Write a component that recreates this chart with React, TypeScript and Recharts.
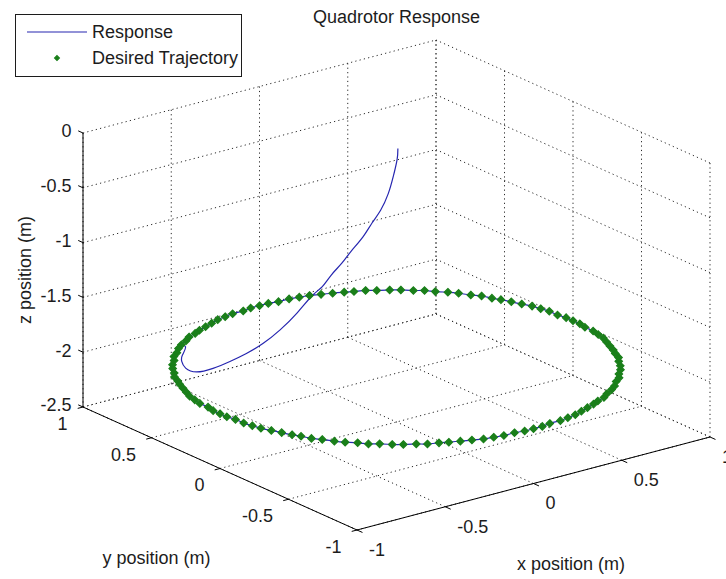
import {
  ComposedChart,
  XAxis,
  YAxis,
  Line,
  Scatter,
  ReferenceLine,
  Legend,
  Customized,
} from 'recharts';

const WIDTH = 726;
const HEIGHT = 579;
const FONT = "'Liberation Sans', Arial, Helvetica, sans-serif";
const TEXT = '#1c1c1c';
const BLUE = '#2626b0';
const GREEN = '#1a7f1a';
const GRID = '#2a2a2a';

// axes limits and ticks (m)
const X_LIM = [-1, 1];
const Y_LIM = [-1, 1];
const Z_LIM = [-2.5, 0];
const X_TICKS = [-1, -0.5, 0, 0.5, 1];
const Y_TICKS = [-1, -0.5, 0, 0.5, 1];
const Z_TICKS = [0, -0.5, -1, -1.5, -2, -2.5];

// desired trajectory: 1 m circle held at z = -2 m, one sample every 3 deg
const DESIRED_Z = -2;
const DESIRED_X = [
  1.00, 1.00, 0.99, 0.99, 0.98, 0.97, 0.95, 0.93, 0.91, 0.89,
  0.87, 0.84, 0.81, 0.78, 0.74, 0.71, 0.67, 0.63, 0.59, 0.54,
  0.50, 0.45, 0.41, 0.36, 0.31, 0.26, 0.21, 0.16, 0.10, 0.05,
  0.00, -0.05, -0.10, -0.16, -0.21, -0.26, -0.31, -0.36, -0.41, -0.45,
  -0.50, -0.54, -0.59, -0.63, -0.67, -0.71, -0.74, -0.78, -0.81, -0.84,
  -0.87, -0.89, -0.91, -0.93, -0.95, -0.97, -0.98, -0.99, -0.99, -1.00,
  -1.00, -1.00, -0.99, -0.99, -0.98, -0.97, -0.95, -0.93, -0.91, -0.89,
  -0.87, -0.84, -0.81, -0.78, -0.74, -0.71, -0.67, -0.63, -0.59, -0.54,
  -0.50, -0.45, -0.41, -0.36, -0.31, -0.26, -0.21, -0.16, -0.10, -0.05,
  0.00, 0.05, 0.10, 0.16, 0.21, 0.26, 0.31, 0.36, 0.41, 0.45,
  0.50, 0.54, 0.59, 0.63, 0.67, 0.71, 0.74, 0.78, 0.81, 0.84,
  0.87, 0.89, 0.91, 0.93, 0.95, 0.97, 0.98, 0.99, 0.99, 1.00,
];
const DESIRED_Y = [
  0.00, 0.05, 0.10, 0.16, 0.21, 0.26, 0.31, 0.36, 0.41, 0.45,
  0.50, 0.54, 0.59, 0.63, 0.67, 0.71, 0.74, 0.78, 0.81, 0.84,
  0.87, 0.89, 0.91, 0.93, 0.95, 0.97, 0.98, 0.99, 0.99, 1.00,
  1.00, 1.00, 0.99, 0.99, 0.98, 0.97, 0.95, 0.93, 0.91, 0.89,
  0.87, 0.84, 0.81, 0.78, 0.74, 0.71, 0.67, 0.63, 0.59, 0.54,
  0.50, 0.45, 0.41, 0.36, 0.31, 0.26, 0.21, 0.16, 0.10, 0.05,
  0.00, -0.05, -0.10, -0.16, -0.21, -0.26, -0.31, -0.36, -0.41, -0.45,
  -0.50, -0.54, -0.59, -0.63, -0.67, -0.71, -0.74, -0.78, -0.81, -0.84,
  -0.87, -0.89, -0.91, -0.93, -0.95, -0.97, -0.98, -0.99, -0.99, -1.00,
  -1.00, -1.00, -0.99, -0.99, -0.98, -0.97, -0.95, -0.93, -0.91, -0.89,
  -0.87, -0.84, -0.81, -0.78, -0.74, -0.71, -0.67, -0.63, -0.59, -0.54,
  -0.50, -0.45, -0.41, -0.36, -0.31, -0.26, -0.21, -0.16, -0.10, -0.05,
];

// response: take-off at the origin, descent and swing onto the circle
const DESCENT_X = [0, -0.02, -0.05, -0.07, -0.09, -0.10, -0.12, -0.15, -0.17, -0.20, -0.22, -0.23,
  -0.30, -0.38, -0.46, -0.54, -0.61, -0.69, -0.76, -0.76, -0.72, -0.67, -0.59];
const DESCENT_Y = [-0.01, -0.03, -0.04, -0.03, 0.00, 0.05, 0.09, 0.14, 0.18, 0.22, 0.26, 0.32,
  0.34, 0.36, 0.38, 0.40, 0.43, 0.45, 0.48, 0.56, 0.64, 0.70, 0.78];
const DESCENT_Z = [0, -0.08, -0.22, -0.37, -0.53, -0.67, -0.81, -0.96, -1.08, -1.2, -1.32, -1.43,
  -1.57, -1.7, -1.8, -1.87, -1.93, -1.97, -1.99, -2, -2, -2, -2];
// circle sample where the vehicle locks on; from there it flies one lap clockwise
const CAPTURE_INDEX = 42;

// default 3-D view (az -37.5, el 30) fitted to the axes box, in px per metre
const VIEW = { ox: 396.5, oy: 422, xx: 176.5, xy: -46.5, yx: -137, yy: -61.5, zy: -109.6 };

type P3 = [number, number, number];

function project(x: number, y: number, z: number) {
  return {
    sx: VIEW.ox + VIEW.xx * x + VIEW.yx * y,
    sy: VIEW.oy + VIEW.xy * x + VIEW.yy * y + VIEW.zy * (z - Z_LIM[0]),
  };
}

const desiredPts = DESIRED_X.map((x, i) => project(x, DESIRED_Y[i], DESIRED_Z));
const nCircle = DESIRED_X.length;
const lap = Array.from({ length: nCircle + 1 }, (_, k) => (CAPTURE_INDEX - k + nCircle) % nCircle);
const responsePts = [
  ...DESCENT_X.map((x, i) => project(x, DESCENT_Y[i], DESCENT_Z[i])),
  ...lap.map(i => project(DESIRED_X[i], DESIRED_Y[i], DESIRED_Z)),
];

const [x0, x1] = X_LIM;
const [y0, y1] = Y_LIM;
const [z0, z1] = Z_LIM;

// dotted grid on the two back walls and the floor
const gridSegs: [P3, P3][] = [
  ...X_TICKS.map((x): [P3, P3] => [[x, y1, z0], [x, y1, z1]]),
  ...Z_TICKS.map((z): [P3, P3] => [[x0, y1, z], [x1, y1, z]]),
  ...Y_TICKS.map((y): [P3, P3] => [[x1, y, z0], [x1, y, z1]]),
  ...Z_TICKS.map((z): [P3, P3] => [[x1, y0, z], [x1, y1, z]]),
  ...X_TICKS.map((x): [P3, P3] => [[x, y0, z0], [x, y1, z0]]),
  ...Y_TICKS.map((y): [P3, P3] => [[x0, y, z0], [x1, y, z0]]),
];

// solid axis lines plus their tick marks
const axisSegs: [P3, P3][] = [
  [[x0, y1, z0], [x0, y1, z1]],
  [[x0, y0, z0], [x0, y1, z0]],
  [[x0, y0, z0], [x1, y0, z0]],
  ...Z_TICKS.map((z): [P3, P3] => [[x0, y1, z], [x0, y1 + 0.035, z]]),
  ...Y_TICKS.map((y): [P3, P3] => [[x0, y, z0], [x0 - 0.03, y, z0]]),
  ...X_TICKS.map((x): [P3, P3] => [[x, y0, z0], [x, y0 - 0.04, z0]]),
];

const zTickLabels = Z_TICKS.map(z => ({ ...project(x0, y1, z), label: String(z) }));
const yTickLabels = Y_TICKS.map(y => ({ ...project(x0, y, z0), label: String(y) }));
const xTickLabels = X_TICKS.map(x => ({ ...project(x, y0, z0), label: String(x) }));
const xAxisTitle = [{ ...project(0, y0, z0), label: 'x position (m)' }];
const yAxisTitle = [{ ...project(x0, 0, z0), label: 'y position (m)' }];
const zAxisTitle = [{ ...project(x0, y1, (z0 + z1) / 2), label: 'z position (m)' }];

function textShape(dx: number, dy: number, anchor: 'start' | 'middle' | 'end', rotate = 0) {
  return (p: any) => {
    const x = p.cx + dx;
    const y = p.cy + dy;
    return (
      <text
        x={x}
        y={y}
        dy="0.35em"
        textAnchor={anchor}
        transform={rotate ? `rotate(${rotate} ${x} ${y})` : undefined}
        fontFamily={FONT}
        fontSize={18}
        fill={TEXT}
      >
        {p.payload.label}
      </text>
    );
  };
}

const markerShape = (r: number) => (p: any) => (
  <polygon
    points={`${p.cx},${p.cy - r} ${p.cx + r},${p.cy} ${p.cx},${p.cy + r} ${p.cx - r},${p.cy}`}
    fill={GREEN}
    stroke={GREEN}
    strokeWidth={1.2}
  />
);
const Diamond = markerShape(3.7);
const LegendDiamond = markerShape(2.4);

function TrajectoryLegend() {
  return (
    <div style={{ width: 225, height: 61, border: `1px solid ${TEXT}`, background: '#fff' }}>
      <svg width={225} height={61} style={{ display: 'block' }}>
        <line x1={11} x2={71} y1={17} y2={17} stroke={BLUE} strokeWidth={1.2} />
        <LegendDiamond cx={41} cy={43} />
        <text x={76} y={17} dy="0.35em" fontFamily={FONT} fontSize={18} fill={TEXT}>Response</text>
        <text x={76} y={43} dy="0.35em" fontFamily={FONT} fontSize={18} fill={TEXT}>Desired Trajectory</text>
      </svg>
    </div>
  );
}

const seg = ([a, b]: [P3, P3]) => {
  const p = project(...a);
  const q = project(...b);
  return [{ x: p.sx, y: p.sy }, { x: q.sx, y: q.sy }];
};

export default function App() {
  return (
    <div style={{ position: 'absolute', left: 0, top: 0, width: WIDTH, height: HEIGHT, background: '#fff' }}>
      <ComposedChart width={WIDTH} height={HEIGHT} margin={{ top: 0, right: 0, bottom: 0, left: 0 }}>
        <XAxis type="number" dataKey="sx" domain={[0, WIDTH]} allowDataOverflow hide />
        <YAxis type="number" dataKey="sy" domain={[0, HEIGHT]} allowDataOverflow reversed hide />

        {gridSegs.map((s, i) => (
          <ReferenceLine key={`g${i}`} segment={seg(s)} stroke={GRID} strokeWidth={1} strokeDasharray="1.2 3.2" ifOverflow="visible" />
        ))}
        {axisSegs.map((s, i) => (
          <ReferenceLine key={`a${i}`} segment={seg(s)} stroke="#000" strokeWidth={1} ifOverflow="visible" />
        ))}

        <Line data={responsePts} dataKey="sy" name="Response" type="natural" stroke={BLUE} strokeWidth={1.2} dot={false} activeDot={false} isAnimationActive={false} />
        <Scatter data={desiredPts} name="Desired Trajectory" shape={Diamond} isAnimationActive={false} />

        <Scatter data={zTickLabels} shape={textShape(-11.5, -2, 'end')} isAnimationActive={false} legendType="none" />
        <Scatter data={yTickLabels} shape={textShape(-15.5, 16.5, 'end')} isAnimationActive={false} legendType="none" />
        <Scatter data={xTickLabels} shape={textShape(12, 19.5, 'start')} isAnimationActive={false} legendType="none" />
        <Scatter data={xAxisTitle} shape={textShape(37.5, 80.5, 'middle')} isAnimationActive={false} legendType="none" />
        <Scatter data={yAxisTitle} shape={textShape(-63.5, 89.5, 'middle')} isAnimationActive={false} legendType="none" />
        <Scatter data={zAxisTitle} shape={textShape(-58, 0, 'middle', -90)} isAnimationActive={false} legendType="none" />

        <Customized
          component={() => (
            <text x={396.5} y={17} dy="0.35em" textAnchor="middle" fontFamily={FONT} fontSize={18} fill={TEXT}>
              Quadrotor Response
            </text>
          )}
        />
        <Legend
          layout="vertical"
          align="center"
          verticalAlign="middle"
          content={() => <TrajectoryLegend />}
          wrapperStyle={{ left: 15, top: 14, width: 'auto', height: 'auto' }}
        />
      </ComposedChart>
    </div>
  );
}
